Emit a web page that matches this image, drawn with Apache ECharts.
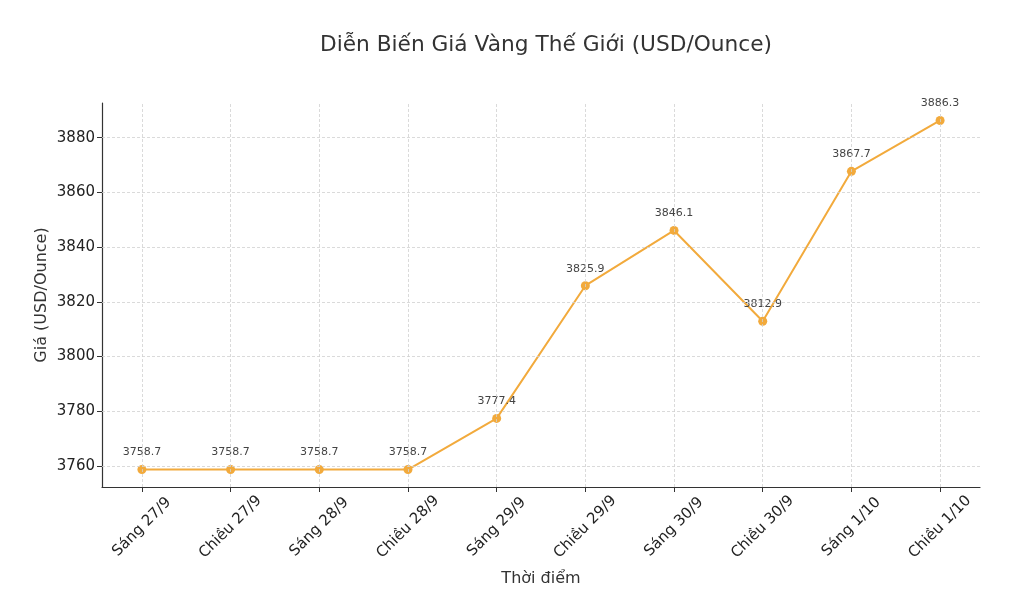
<!DOCTYPE html>
<html>
<head>
<meta charset="utf-8">
<script src="https://cdn.jsdelivr.net/npm/echarts@6/dist/echarts.min.js"></script>
<style>
  html, body { margin: 0; padding: 0; background: #fff; }
  #chart { width: 1010px; height: 594px; }
</style>
</head>
<body>
<div id="chart"></div>
<script>
const categories = ['Sáng 27/9', 'Chiều 27/9', 'Sáng 28/9', 'Chiều 28/9', 'Sáng 29/9',
  'Chiều 29/9', 'Sáng 30/9', 'Chiều 30/9', 'Sáng 1/10', 'Chiều 1/10'];
const prices = [3758.7, 3758.7, 3758.7, 3758.7, 3777.4, 3825.9, 3846.1, 3812.9, 3867.7, 3886.3];
const yTicks = [3760, 3780, 3800, 3820, 3840, 3860, 3880];

const font = 'DejaVu Sans';
const chart = echarts.init(document.getElementById('chart'));
const xIdx = categories.map((c, i) => i);

chart.setOption({
  animation: false,
  textStyle: { fontFamily: font },
  title: {
    text: 'Diễn Biến Giá Vàng Thế Giới (USD/Ounce)',
    left: 541,
    textAlign: 'center',
    top: 29,
    textStyle: { fontFamily: font, fontSize: 21.7, fontWeight: 'normal', color: '#333' }
  },
  grid: { left: 102, right: 30, top: 103, bottom: 107 },
  xAxis: {
    type: 'value',
    min: -0.45,
    max: 9.45,
    interval: 1,
    name: 'Thời điểm',
    nameLocation: 'middle',
    nameGap: 84,
    nameMoveOverlap: false,
    nameTextStyle: { fontSize: 16, color: '#333' },
    axisLine: { onZero: false, lineStyle: { color: '#333', width: 1.2 } },
    axisTick: { length: 5, lineStyle: { color: '#333' }, customValues: xIdx },
    axisLabel: {
      rotate: 45,
      fontSize: 15,
      color: '#222',
      margin: 40,
      align: 'center',
      verticalAlign: 'middle',
      customValues: xIdx,
      formatter: v => categories[Math.round(v)]
    },
    splitLine: { show: false }
  },
  yAxis: {
    type: 'value',
    min: 3752.32,
    max: 3892.68,
    name: 'Giá (USD/Ounce)',
    nameLocation: 'middle',
    nameGap: 52,
    nameMoveOverlap: false,
    nameTextStyle: { fontSize: 16, color: '#333' },
    axisLine: { show: true, onZero: false, lineStyle: { color: '#333', width: 1.2 } },
    axisTick: { show: true, length: 5, lineStyle: { color: '#333' }, customValues: yTicks },
    axisLabel: { fontSize: 15, color: '#222', margin: 7, customValues: yTicks,
      formatter: v => String(v) },
    splitLine: { show: false }
  },
  series: [
    {
      type: 'line',
      data: prices.map((p, i) => [i, p]),
      symbol: 'circle',
      symbolSize: 9,
      lineStyle: { color: '#F2AA3C', width: 2 },
      itemStyle: { color: '#F2AA3C' },
      label: {
        show: true,
        position: 'top',
        distance: 7,
        fontSize: 11,
        color: '#444',
        formatter: p => p.value[1].toFixed(1)
      },
      markLine: {
        silent: true,
        symbol: 'none',
        label: { show: false },
        lineStyle: { color: '#d0d0d0', type: [3, 2], width: 0.8 },
        data: yTicks.map(v => ({ yAxis: v }))
          .concat(xIdx.map(i => ({ xAxis: i })))
      }
    }
  ]
});
</script>
</body>
</html>
